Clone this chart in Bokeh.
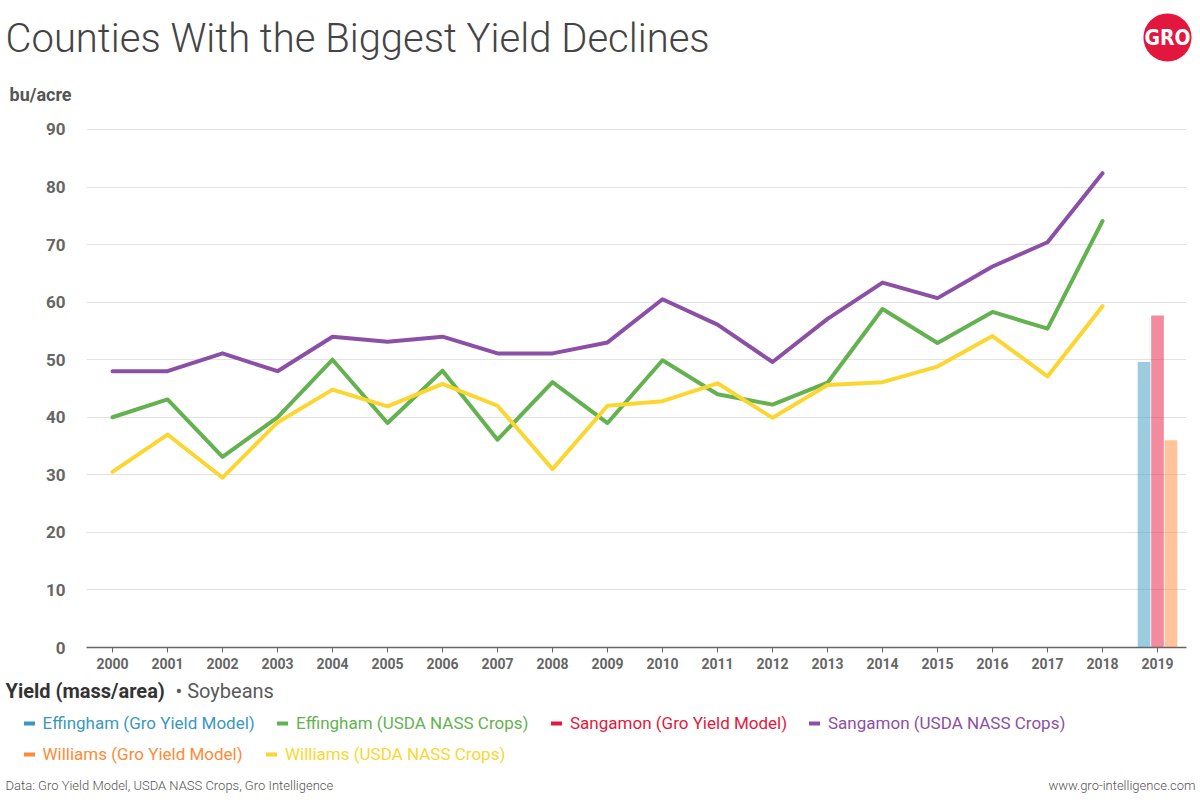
from bokeh.plotting import figure
from bokeh.layouts import column
from bokeh.models import Range1d, FixedTicker, Label, Legend, LegendItem, ColumnDataSource
from bokeh.transform import dodge
from bokeh.embed import file_html
from bokeh.resources import INLINE

# ---------------- data ----------------
years = list(range(2000, 2019))
sangamon_nass = [48.0, 48.0, 51.1, 48.0, 54.0, 53.1, 54.0, 51.1, 51.1, 53.0,
                 60.5, 56.1, 49.6, 57.1, 63.4, 60.7, 66.2, 70.4, 82.4]
effingham_nass = [40.0, 43.1, 33.1, 40.0, 50.0, 39.0, 48.1, 36.1, 46.1, 39.0,
                  49.9, 44.0, 42.2, 46.0, 58.8, 52.9, 58.3, 55.4, 74.1]
williams_nass = [30.5, 37.0, 29.5, 39.1, 44.8, 41.9, 45.8, 42.0, 31.0, 42.0,
                 42.8, 45.9, 39.9, 45.6, 46.1, 48.8, 54.1, 47.1, 59.3]

model_years = [2019]
effingham_model = [49.6]
sangamon_model = [57.7]
williams_model = [36.0]

x_ticks = list(range(2000, 2020))
y_ticks = [0, 10, 20, 30, 40, 50, 60, 70, 80, 90]

series_names = ["Effingham (Gro Yield Model)", "Effingham (USDA NASS Crops)",
                "Sangamon (Gro Yield Model)", "Sangamon (USDA NASS Crops)",
                "Williams (Gro Yield Model)", "Williams (USDA NASS Crops)"]

# ---------------- styles ----------------
BLUE = "#3b97c1"
GREEN = "#63b24f"
RED = "#e5173c"
PURPLE = "#8c4fa6"
ORANGE = "#ff8a37"
YELLOW = "#fcd630"
FONT = "Roboto"
W = 1200
HEAD_H = 110
MAIN_H = 567
FOOT_H = 800 - HEAD_H - MAIN_H
NAN = float("nan")


def blank_fig(h):
    f = figure(width=W, height=h, output_backend="svg", toolbar_location=None,
               x_range=Range1d(0, W), y_range=Range1d(h, 0),
               x_axis_type=None, y_axis_type=None, min_border=0,
               min_border_left=0, min_border_right=0, min_border_top=0,
               min_border_bottom=0, background_fill_color="white",
               border_fill_color="white", frame_align=False)
    f.outline_line_color = None
    f.grid.visible = False
    return f


def add_label(f, text, x, y, size, color, style="normal", font=FONT, align="left",
              baseline="alphabetic"):
    lab = Label(text=text, x=x, y=y, text_font=font, text_font_size=size,
                text_color=color, text_font_style=style, text_align=align,
                text_baseline=baseline)
    f.add_layout(lab)
    return lab


# ---------------- header ----------------
head = blank_fig(HEAD_H)
add_label(head, "Counties With the Biggest Yield Declines", 5, 38, "40px", "#444444",
          font="Roboto Light")
add_label(head, "bu/acre", 9, 94, "18px", "#555555", style="bold")
logo = Label(text="GRO", x=1167, y=37, text_font="DejaVu Sans Condensed",
             text_font_style="bold", text_font_size="21px", text_color="white",
             text_align="center", text_baseline="middle",
             background_fill_color="#e3173d", border_radius=24, padding=(1, 12))
head.add_layout(logo)

# ---------------- main chart ----------------
p = figure(width=W, height=MAIN_H, output_backend="svg", toolbar_location=None,
           x_range=Range1d(1999.527, 2019.527), y_range=Range1d(0, 92.08),
           min_border_left=86, min_border_right=14, min_border_top=7,
           min_border_bottom=30, background_fill_color="white",
           border_fill_color="white", frame_align=False)
p.outline_line_color = None

p.xgrid.grid_line_color = None
p.ygrid.grid_line_color = "#e2e2e2"
p.ygrid.grid_line_width = 1

p.yaxis.ticker = FixedTicker(ticks=y_ticks)
p.yaxis.axis_line_color = None
p.yaxis.major_tick_line_color = None
p.yaxis.minor_tick_line_color = None
p.yaxis.major_label_text_font = FONT
p.yaxis.major_label_text_font_style = "bold"
p.yaxis.major_label_text_font_size = "17px"
p.yaxis.major_label_text_color = "#666666"
p.yaxis.major_label_standoff = 15

p.xaxis.ticker = FixedTicker(ticks=x_ticks)
p.xaxis.axis_line_color = "#666666"
p.xaxis.axis_line_width = 1.5
p.xaxis.major_tick_line_color = "#666666"
p.xaxis.major_tick_out = 5
p.xaxis.major_tick_in = 0
p.xaxis.minor_tick_line_color = None
p.xaxis.major_label_text_font = FONT
p.xaxis.major_label_text_font_style = "bold"
p.xaxis.major_label_text_font_size = "14px"
p.xaxis.major_label_text_color = "#666666"
p.xaxis.major_label_standoff = 5

bar_src = ColumnDataSource(dict(x=model_years, eff=effingham_model,
                                san=sangamon_model, wil=williams_model))
p.vbar(x=dodge("x", -0.245), top="eff", width=0.23, source=bar_src,
       fill_color=BLUE, fill_alpha=0.5, line_color=None)
p.vbar(x=dodge("x", 0.0), top="san", width=0.23, source=bar_src,
       fill_color=RED, fill_alpha=0.5, line_color=None)
p.vbar(x=dodge("x", 0.245), top="wil", width=0.23, source=bar_src,
       fill_color=ORANGE, fill_alpha=0.5, line_color=None)

line_src = ColumnDataSource(dict(year=years, eff=effingham_nass,
                                 san=sangamon_nass, wil=williams_nass))
p.line("year", "eff", source=line_src, line_color=GREEN, line_width=4,
       line_join="round", line_cap="round")
p.line("year", "san", source=line_src, line_color=PURPLE, line_width=4,
       line_join="round", line_cap="round")
p.line("year", "wil", source=line_src, line_color=YELLOW, line_width=4,
       line_join="round", line_cap="round")

# ---------------- footer (legend + source) ----------------
foot = blank_fig(FOOT_H)
add_label(foot, "Yield (mass/area)", 5, 13.5, "20px", "#333333", style="bold")
add_label(foot, "• Soybeans", 175, 13.5, "20px", "#5a5a5a")
add_label(foot, "Data: Gro Yield Model, USDA NASS Crops, Gro Intelligence", 5, 108,
          "13px", "#555555", font="Roboto Light")
add_label(foot, "www.gro-intelligence.com", 1195, 108, "13px", "#555555",
          font="Roboto Light", align="right")

# legend rows: (name, colour, glyph start x, row centre y in footer)
legend_defs = [
    (series_names[0], BLUE, 23.5, 45.5),
    (series_names[1], GREEN, 277, 45.5),
    (series_names[2], RED, 551, 45.5),
    (series_names[3], PURPLE, 809, 45.5),
    (series_names[4], ORANGE, 23.5, 76.5),
    (series_names[5], YELLOW, 266, 76.5),
]
for lab, col, gx, cy in legend_defs:
    sw = foot.line(x=[NAN], y=[NAN], line_color=col, line_width=4, line_cap="round")
    lg = Legend(items=[LegendItem(label=lab, renderers=[sw])],
                location=(gx, FOOT_H - (cy + 10)),
                orientation="horizontal", padding=0, margin=0, spacing=0,
                glyph_width=11, glyph_height=20, label_height=20, label_standoff=8,
                label_text_color=col, label_text_font=FONT,
                label_text_font_size="17px", label_text_baseline="middle",
                background_fill_alpha=0, border_line_alpha=0)
    foot.add_layout(lg)

layout = column(head, p, foot, spacing=0)
open("out.html", "w").write(file_html(layout, INLINE))
